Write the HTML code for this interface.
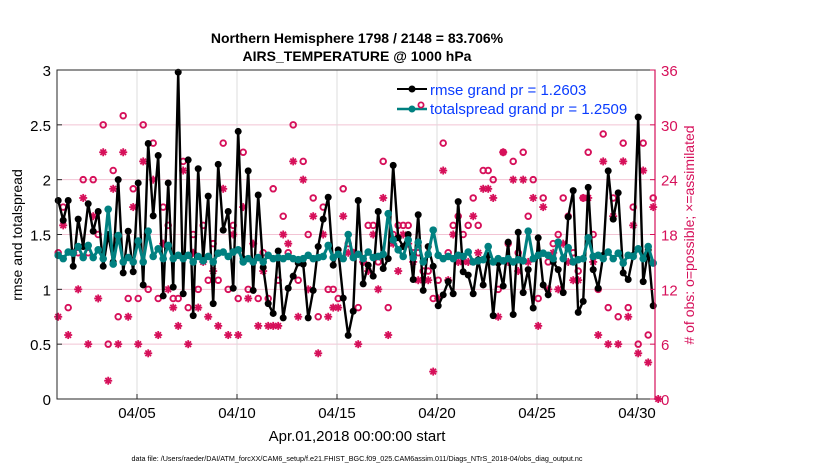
<!DOCTYPE html>
<html><head><meta charset="utf-8"><style>
body{margin:0;background:#fff;}
svg{display:block;font-family:"Liberation Sans",sans-serif;}
</style></head><body>
<svg id="chart" width="830" height="470" viewBox="0 0 830 470" xmlns="http://www.w3.org/2000/svg">
<rect width="830" height="470" fill="#fff"/>
<text x="357" y="43" text-anchor="middle" font-size="14" font-weight="bold">Northern Hemisphere 1798 / 2148 = 83.706%</text>
<text x="357" y="61" text-anchor="middle" font-size="14" font-weight="bold">AIRS_TEMPERATURE @ 1000 hPa</text>
<g id="grid"></g>
<g id="marks"></g>
<g id="axes"></g>
<text transform="translate(22,235) rotate(-90)" text-anchor="middle" font-size="14">rmse and totalspread</text>
<text transform="translate(694,235) rotate(-90)" text-anchor="middle" font-size="14" fill="#d6105a"># of obs: o=possible; ×=assimilated</text>
<text x="357" y="441" text-anchor="middle" font-size="15">Apr.01,2018 00:00:00 start</text>
<text x="357" y="461" text-anchor="middle" font-size="7.2">data file: /Users/raeder/DAI/ATM_forcXX/CAM6_setup/f.e21.FHIST_BGC.f09_025.CAM6assim.011/Diags_NTrS_2018-04/obs_diag_output.nc</text>
<g>
<line x1="397" y1="89" x2="427" y2="89" stroke="#000" stroke-width="2"/>
<circle cx="412" cy="89" r="3.5" fill="#000"/>
<text x="430" y="95" font-size="15" fill="#0a3cff">rmse grand pr = 1.2603</text>
<line x1="397" y1="109" x2="427" y2="109" stroke="#008080" stroke-width="2.5"/>
<circle cx="412" cy="109" r="3.5" fill="#008080"/>
<circle cx="421" cy="105" r="2.6" fill="none" stroke="#d6105a" stroke-width="1.8"/>
<text x="430" y="114" font-size="15" fill="#0a3cff">totalspread grand pr = 1.2509</text>
</g>
</svg>
<script>
const rmse=[1.81,1.63,1.81,1.21,1.64,1.39,1.78,1.53,1.71,1.21,1.5,1.25,2.0,1.15,1.53,1.16,1.97,1.04,2.33,1.67,2.22,0.94,1.97,1.02,2.98,0.96,2.18,0.76,2.1,1.27,1.85,0.87,2.14,1.54,1.71,1.01,2.44,1.28,2.08,0.99,1.86,1.2,0.87,0.78,1.35,0.74,1.01,1.12,1.24,1.23,0.74,0.99,1.39,1.64,1.84,1.22,1.36,0.92,0.58,0.80,1.81,1.05,1.22,1.12,1.71,1.19,1.28,2.13,1.47,1.39,1.50,1.09,1.68,0.99,1.39,1.21,0.85,0.95,1.07,0.96,1.80,1.16,1.13,0.96,1.27,1.04,1.31,0.76,1.24,1.03,1.43,0.77,1.52,0.97,1.18,0.83,1.47,1.04,0.95,1.25,1.18,0.97,1.66,1.90,0.79,0.89,1.93,1.18,1.01,1.31,2.08,1.64,1.88,1.15,1.09,1.31,2.57,1.07,1.36,0.85];
const spread=[1.31,1.28,1.34,1.33,1.39,1.29,1.40,1.29,1.36,1.28,1.73,1.23,1.49,1.25,1.29,1.25,1.44,1.25,1.53,1.30,1.37,1.28,1.40,1.28,1.31,1.28,1.31,1.25,1.30,1.26,1.30,1.25,1.33,1.34,1.30,1.34,1.36,1.25,1.28,1.25,1.29,1.25,1.31,1.28,1.29,1.28,1.30,1.28,1.27,1.28,1.31,1.28,1.29,1.30,1.40,1.29,1.32,1.28,1.50,1.29,1.32,1.28,1.34,1.29,1.30,1.32,1.69,1.45,1.36,1.30,1.45,1.29,1.43,1.25,1.32,1.54,1.31,1.28,1.30,1.28,1.31,1.30,1.34,1.25,1.26,1.27,1.39,1.25,1.28,1.26,1.28,1.25,1.27,1.26,1.53,1.28,1.31,1.33,1.31,1.28,1.43,1.28,1.38,1.25,1.27,1.28,1.47,1.30,1.31,1.28,1.34,1.28,1.33,1.24,1.31,1.30,1.37,1.28,1.39,1.24];
const possible=[16,21,10,16,16,24,16,24,18,30,6,25,9,31,11,23,11,30,12,28,11,21,19,11,11,26,10,18,12,19,13,17,13,28,12,19,11,27,12,15,11,16,11,23,13,20,16,30,13,26,18,22,9,21,12,12,11,23,17,16,10,15,19,19,15,26,10,18,19,19,19,16,16,14,14,11,13,28,16,19,20,18,19,22,19,25,25,24,12,27,17,26,16,27,20,24,11,22,15,17,18,22,20,16,14,22,27,18,12,29,10,22,9,28,10,21,6,28,7,22];
const assimilated=[9,19,7,16,12,22,6,20,11,27,2,23,6,27,9,21,6,26,5,24,7,17,12,10,8,25,6,16,10,15,9,14,8,23,7,18,7,21,11,17,8,14,8,8,8,18,17,26,9,24,12,20,5,18,9,10,10,20,16,16,6,15,14,18,12,22,7,17,14,18,17,15,13,13,13,3,11,25,13,18,15,15,15,20,16,23,23,22,9,27,15,24,14,24,15,22,8,21,12,16,12,17,15,13,13,22,22,15,7,26,6,20,6,26,9,19,5,25,4,21,0];
const xTicks=[5,10,15,20,25,30];
const xTickLabels=["04/05","04/10","04/15","04/20","04/25","04/30"];
const yTicks=[0,0.5,1,1.5,2,2.5,3];
const yTickLabels=["0","0.5","1","1.5","2","2.5","3"];
const y2Ticks=[0,6,12,18,24,30,36];

const L=57,R=655,T=70,B=399;
const xDay=d=>L+20*(d-1);
const xIdx=i=>xDay(1+0.06+0.25*i);
const y1=v=>B-(B-T)*v/3;
const y2=v=>B-(B-T)*v/36;
const NS="http://www.w3.org/2000/svg";
function mk(tag,attrs,parent){const e=document.createElementNS(NS,tag);for(const k in attrs)e.setAttribute(k,attrs[k]);parent.appendChild(e);return e;}
const grid=document.getElementById('grid'),marks=document.getElementById('marks'),axes=document.getElementById('axes');

y2Ticks.forEach(t=>{if(t>0&&t<36){const g=mk('line',{x1:L,x2:R,y1:y2(t),y2:y2(t),stroke:'#f2c4d4','stroke-width':1},grid);

}});
xTicks.forEach(t=>{const g=mk('line',{x1:xDay(t),x2:xDay(t),y1:T,y2:B,stroke:'#dcdcdc','stroke-width':1},grid);

});

assimilated.forEach((v,i)=>{const cx=xIdx(i),cy=y2(v);const g=mk('g',{stroke:'#d6105a','stroke-width':1.8},marks);


const r=4;mk('line',{x1:cx-r,x2:cx+r,y1:cy,y2:cy},g);mk('line',{x1:cx,x2:cx,y1:cy-r,y2:cy+r},g);
mk('line',{x1:cx-r*0.7,x2:cx+r*0.7,y1:cy-r*0.7,y2:cy+r*0.7},g);mk('line',{x1:cx-r*0.7,x2:cx+r*0.7,y1:cy+r*0.7,y2:cy-r*0.7},g);});
possible.forEach((v,i)=>{const c=mk('circle',{cx:xIdx(i),cy:y2(v),r:2.8,fill:'none',stroke:'#d6105a','stroke-width':1.9},marks);

});

function series(arr,color,w,r,name){const p=mk('polyline',{points:arr.map((v,i)=>xIdx(i)+','+y1(v)).join(' '),fill:'none',stroke:color,'stroke-width':w,'stroke-linejoin':'round'},marks);


arr.forEach((v,i)=>{const c=mk('circle',{cx:xIdx(i),cy:y1(v),r:r,fill:color},marks);

});}
series(rmse,'#000',2.4,3.5,'rmse');
series(spread,'#008080',3,3.8,'totalspread');

const box=mk('rect',{x:L,y:T,width:R-L,height:B-T,fill:'none',stroke:'#262626','stroke-width':1},axes);


const ra=mk('line',{x1:R,x2:R,y1:T,y2:B,stroke:'#d6105a','stroke-width':1.2},axes);


yTicks.forEach((t,i)=>{mk('line',{x1:L,x2:L+5,y1:y1(t),y2:y1(t),stroke:'#262626'},axes);
const tx=mk('text',{x:L-6,y:y1(t)+6,'text-anchor':'end','font-size':15},axes);tx.textContent=yTickLabels[i];

});
y2Ticks.forEach(t=>{mk('line',{x1:R-5,x2:R,y1:y2(t),y2:y2(t),stroke:'#d6105a'},axes);
const tx=mk('text',{x:R+6,y:y2(t)+6,'font-size':15,fill:'#d6105a'},axes);tx.textContent=String(t);

});
xTicks.forEach((t,i)=>{mk('line',{x1:xDay(t),x2:xDay(t),y1:B,y2:B-5,stroke:'#262626'},axes);
const tx=mk('text',{x:xDay(t),y:B+19,'text-anchor':'middle','font-size':15},axes);tx.textContent=xTickLabels[i];

});
</script>
</body></html>
